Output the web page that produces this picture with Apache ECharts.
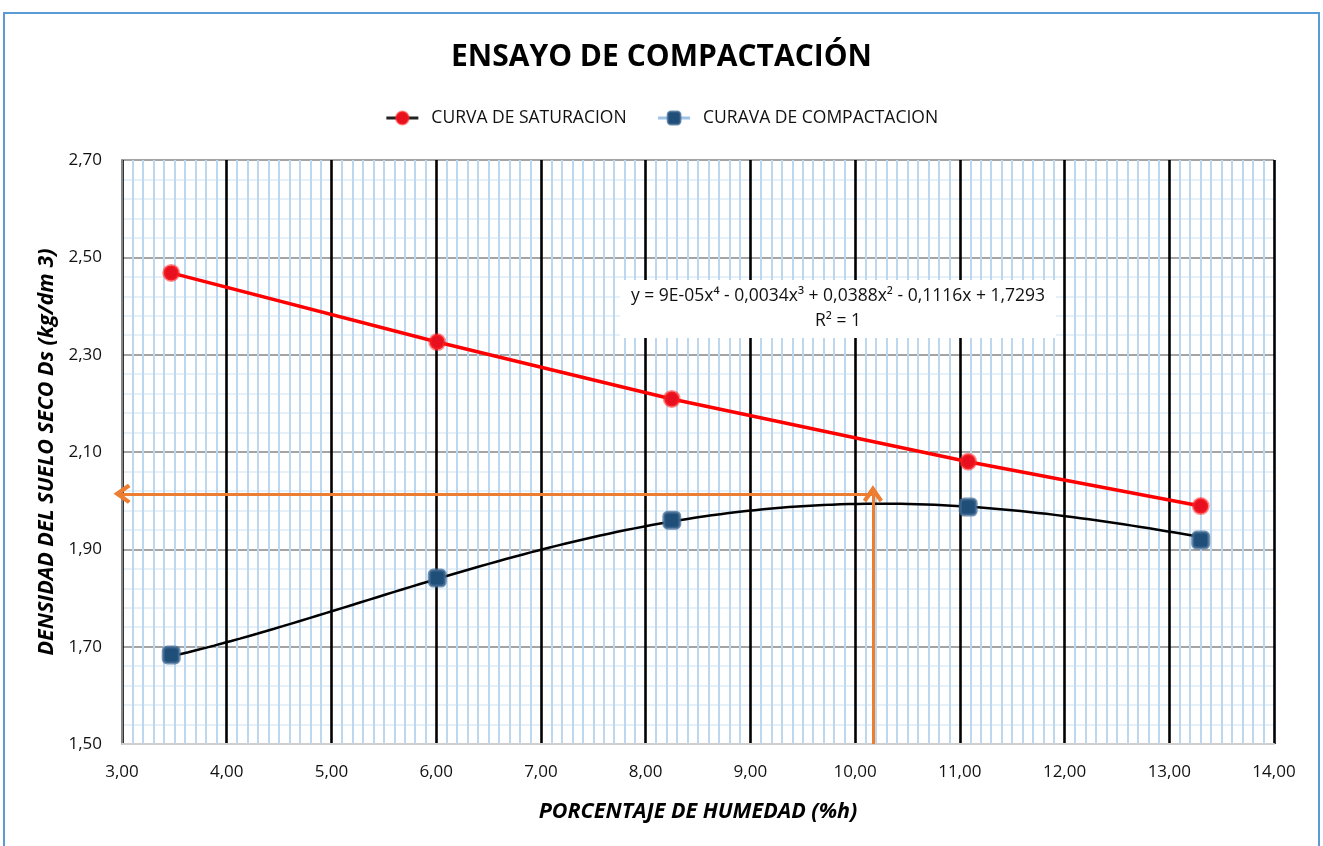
<!DOCTYPE html>
<html>
<head>
<meta charset="utf-8">
<title>Ensayo de compactación</title>
<script src="https://cdn.jsdelivr.net/npm/echarts@6/dist/echarts.min.js"></script>
<style>
  html, body { margin: 0; padding: 0; background: #ffffff; }
  #chart { width: 1323px; height: 846px; }
</style>
</head>
<body>
<div id="chart"></div>
<script>
// Moisture content (%) of each test specimen
const humedad = [3.47, 6.01, 8.25, 11.08, 13.30];
// Zero-air-voids (saturation) dry density, kg/dm3
const densidadSaturacion = [2.468, 2.326, 2.209, 2.080, 1.989];
// Measured dry density of the compacted specimens, kg/dm3
const densidadCompactacion = [1.683, 1.841, 1.960, 1.987, 1.919];
// 4th-order trendline of the compaction curve (constant term first)
const coefTendencia = [1.7293, -0.1116, 0.0388, -0.0034, 0.00009];
const textoEcuacion = 'y = 9E-05x⁴ - 0,0034x³ + 0,0388x² - 0,1116x + 1,7293';
const textoR2 = 'R² = 1';
// Optimum moisture content and maximum dry density
const humedadOptima = 10.17;
const densidadMaxima = 2.014;
// Axis ranges
const ejeX = { min: 3, max: 14, interval: 1 };
const ejeY = { min: 1.5, max: 2.7, interval: 0.2 };

const FONT = "'Open Sans', 'Noto Sans', sans-serif";

function evalPoly(c, x) {
  let y = 0;
  for (let i = c.length - 1; i >= 0; i--) y = y * x + c[i];
  return y;
}

// trendline evaluated over the range of the measured points
const tendencia = [];
const x0 = humedad[0], x1 = humedad[humedad.length - 1];
const pasos = 120;
for (let i = 0; i <= pasos; i++) {
  const x = x0 + (x1 - x0) * i / pasos;
  tendencia.push([x, evalPoly(coefTendencia, x)]);
}

const fmt = v => v.toFixed(2).replace('.', ',');
// open arrow head (points up; markLine rotates it along the line)
const chevron = 'path://M5,0 L10,8 L8.4,9.4 L5,4.3 L1.6,9.4 L0,8 Z';

const chart = echarts.init(document.getElementById('chart'), null, { renderer: 'canvas' });

chart.setOption({
  backgroundColor: '#ffffff',
  animation: false,
  title: {
    text: 'ENSAYO DE COMPACTACIÓN',
    left: 'center',
    top: 37,
    textStyle: { fontFamily: FONT, fontWeight: 'bold', fontSize: 30, color: '#000' }
  },
  legend: {
    top: 104,
    left: 'center',
    itemGap: 30,
    itemWidth: 32,
    itemHeight: 16,
    textStyle: { fontFamily: FONT, fontSize: 17.5, color: '#111', padding: [0, 0, 0, 8] },
    data: [
      { name: 'CURVA DE SATURACION', lineStyle: { color: '#222', width: 3 } },
      { name: 'CURAVA DE COMPACTACION', lineStyle: { color: '#9DC3E6', width: 3, opacity: 1 } }
    ]
  },
  grid: { left: 122, right: 49, top: 160, bottom: 102 },
  xAxis: {
    type: 'value',
    min: ejeX.min, max: ejeX.max, interval: ejeX.interval,
    name: 'PORCENTAJE DE HUMEDAD (%h)',
    nameLocation: 'middle',
    nameGap: 57,
    nameTextStyle: { fontFamily: FONT, fontSize: 21.5, fontWeight: 'bold', fontStyle: 'italic', color: '#000' },
    axisLine: { show: true, onZero: false, lineStyle: { color: '#cfcfcf', width: 2 } },
    axisTick: { show: false },
    axisLabel: { fontFamily: FONT, fontSize: 17, color: '#111', margin: 20, formatter: fmt },
    splitLine: { show: true, lineStyle: { color: '#000', width: 2.6 } },
    minorTick: { show: false, splitNumber: 10 },
    minorSplitLine: { show: true, lineStyle: { color: '#BDD7EE', width: 2 } }
  },
  yAxis: {
    type: 'value',
    min: ejeY.min, max: ejeY.max, interval: ejeY.interval,
    name: 'DENSIDAD DEL SUELO SECO Ds (kg/dm 3)',
    nameLocation: 'middle',
    nameGap: 62,
    nameTextStyle: { fontFamily: FONT, fontSize: 21.5, fontWeight: 'bold', fontStyle: 'italic', color: '#000' },
    axisLine: { show: true, onZero: false, lineStyle: { color: '#868686', width: 2 } },
    axisTick: { show: false },
    axisLabel: { fontFamily: FONT, fontSize: 17, color: '#111', margin: 20, formatter: fmt },
    splitLine: { show: true, lineStyle: { color: '#868686', width: 1.5 } },
    minorTick: { show: false, splitNumber: 5 },
    minorSplitLine: { show: true, lineStyle: { color: '#DDEBF7', width: 1.5 } }
  },
  series: [
    {
      name: 'tendencia',
      type: 'line',
      data: tendencia,
      showSymbol: false,
      symbol: 'none',
      lineStyle: { color: '#000', width: 2.5 },
      z: 3,
      silent: true,
      markLine: {
        silent: true,
        symbol: ['none', chevron],
        symbolSize: [20, 17],
        label: { show: false },
        lineStyle: { color: '#ED7D31', width: 3, type: 'solid' },
        data: [
          [{ coord: [humedadOptima, densidadMaxima] }, { coord: [ejeX.min, densidadMaxima] }],
          [{ coord: [humedadOptima, ejeY.min] }, { coord: [humedadOptima, densidadMaxima] }]
        ]
      }
    },
    {
      name: 'CURVA DE SATURACION',
      type: 'line',
      data: humedad.map((x, i) => [x, densidadSaturacion[i]]),
      symbol: 'circle',
      symbolSize: 15,
      lineStyle: { color: '#FF0000', width: 3.5 },
      itemStyle: { color: '#E8101E', borderColor: 'rgba(255,40,40,0.55)', borderWidth: 3 },
      z: 5
    },
    {
      name: 'CURAVA DE COMPACTACION',
      type: 'line',
      data: humedad.map((x, i) => [x, densidadCompactacion[i]]),
      symbol: 'roundRect',
      symbolSize: 16,
      lineStyle: { opacity: 0 },
      itemStyle: { color: '#1F4E79', borderColor: 'rgba(70,110,150,0.75)', borderWidth: 3 },
      z: 6
    }
  ],
  graphic: [
    {
      type: 'rect',
      shape: { x: 4, y: 13, width: 1315, height: 845 },
      style: { fill: 'none', stroke: '#5B9BD5', lineWidth: 2 },
      silent: true,
      z: 0
    },
    {
      type: 'rect',
      shape: { x: 620, y: 280, width: 436, height: 58 },
      style: { fill: '#ffffff' },
      silent: true,
      z: 10
    },
    {
      type: 'text',
      x: 838, y: 296,
      style: { text: textoEcuacion, font: "17.5px " + FONT, fill: '#111', align: 'center', verticalAlign: 'middle' },
      silent: true,
      z: 11
    },
    {
      type: 'text',
      x: 838, y: 321,
      style: { text: textoR2, font: "17.5px " + FONT, fill: '#111', align: 'center', verticalAlign: 'middle' },
      silent: true,
      z: 11
    }
  ]
});
</script>
</body>
</html>
